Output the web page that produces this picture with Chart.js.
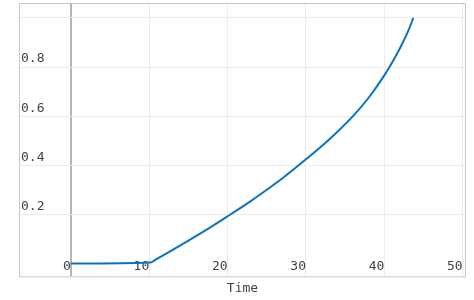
<!DOCTYPE html>
<html>
<head>
<meta charset="utf-8">
<script src="https://cdn.jsdelivr.net/npm/chart.js@4"></script>
<style>
  body { margin: 0; background: #fff; }
</style>
</head>
<body>
<canvas id="chart" width="474" height="300"></canvas>
<script>
// values
const times = [0, 10.2, 10.8, 12, 15, 18, 20, 23, 25, 27, 30, 33, 36, 38, 40, 41, 42, 43, 43.7];
const values = [0, 0.004, 0.015, 0.037, 0.093, 0.151, 0.192, 0.255, 0.300, 0.347, 0.424, 0.506, 0.600, 0.675, 0.766, 0.819, 0.877, 0.943, 1.0];
const xTicks = [0, 10, 20, 30, 40, 50];
const yTicks = [0, 0.2, 0.4, 0.6, 0.8, 1.0];
const yTickLabels = ['', '0.2', '0.4', '0.6', '0.8', ''];

const tickFont = { family: 'DejaVu Sans Mono', size: 13 };

// box round the plot area
const frame = {
  id: 'frame',
  afterDraw(chart) {
    const a = chart.chartArea;
    const ctx = chart.ctx;
    ctx.save();
    ctx.strokeStyle = '#c8c8c8';
    ctx.lineWidth = 1;
    ctx.strokeRect(a.left - 0.5, a.top - 0.5, a.right - a.left + 1, a.bottom - a.top + 1);
    ctx.restore();
  }
};

new Chart(document.getElementById('chart').getContext('2d'), {
  type: 'line',
  data: {
    datasets: [{
      data: times.map((t, i) => ({ x: t, y: values[i] })),
      borderColor: '#0b72bf',
      borderWidth: 2,
      pointRadius: 0,
      cubicInterpolationMode: 'monotone',
      fill: false
    }]
  },
  options: {
    responsive: false,
    animation: false,
    layout: { padding: { left: 18, right: 9, top: 4, bottom: 0 } },
    plugins: { legend: { display: false }, tooltip: { enabled: false } },
    scales: {
      x: {
        type: 'linear',
        min: -6.5,
        max: 50.3,
        afterBuildTicks: s => { s.ticks = xTicks.map(v => ({ value: v })); },
        border: { display: false },
        grid: {
          drawTicks: false,
          color: c => c.tick && c.tick.value === 0 ? '#b4b4b4' : '#ececec',
          lineWidth: c => c.tick && c.tick.value === 0 ? 2 : 1
        },
        ticks: {
          mirror: true,
          align: 'end',
          padding: 2,
          color: '#444',
          font: tickFont,
          maxRotation: 0,
          callback: v => String(v)
        },
        title: {
          display: true,
          text: 'Time',
          color: '#444',
          font: tickFont,
          padding: { top: 0, bottom: 4 }
        }
      },
      y: {
        min: -0.053,
        max: 1.057,
        afterBuildTicks: s => { s.ticks = yTicks.map(v => ({ value: v })); },
        border: { display: false },
        grid: {
          drawTicks: false,
          color: c => c.tick && c.tick.value === 0 ? 'rgba(0,0,0,0)' : '#ececec'
        },
        ticks: {
          mirror: true,
          padding: 1,
          labelOffset: -8,
          color: '#444',
          font: { family: 'DejaVu Sans Mono', size: 13, lineHeight: 0.4 },
          callback: (v, i) => yTickLabels[i]
        }
      }
    }
  },
  plugins: [frame]
});
</script>
</body>
</html>
